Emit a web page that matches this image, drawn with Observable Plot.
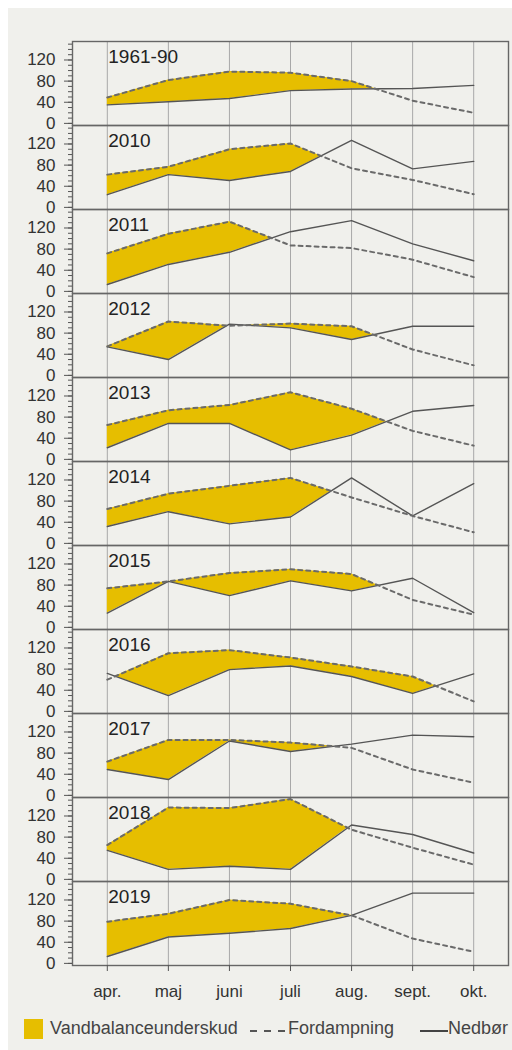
<!DOCTYPE html>
<html>
<head>
<meta charset="utf-8">
<script src="https://cdn.jsdelivr.net/npm/d3@7"></script>
<script src="https://cdn.jsdelivr.net/npm/@observablehq/plot@0.6"></script>
<style>
  html, body { margin: 0; padding: 0; background: #ffffff; }
  #wrap { position: absolute; left: 8px; top: 8px; width: 504px; height: 1042px; background: #f0f0ec; font-family: "Liberation Sans", Arial, sans-serif; color: #333; }
  #chart { position: absolute; left: 0; top: 0; }
  .leg { position: absolute; font-size: 18px; color: #444; white-space: nowrap; }
</style>
</head>
<body>
<div id="wrap">
  <div id="chart"></div>
  <div class="leg" style="left:16px;top:1011px;width:19px;height:20px;background:#e6be00;"></div>
  <div class="leg" style="left:42px;top:1010px;">Vandbalanceunderskud</div>
  <svg class="leg" style="left:242px;top:1021px;" width="36" height="4"><line x1="0" y1="2" x2="36" y2="2" stroke="#555" stroke-width="2" stroke-dasharray="7,7"/></svg>
  <div class="leg" style="left:280px;top:1010px;">Fordampning</div>
  <svg class="leg" style="left:412px;top:1021px;" width="28" height="4"><line x1="0" y1="2" x2="28" y2="2" stroke="#444" stroke-width="2"/></svg>
  <div class="leg" style="left:440px;top:1010px;">Nedbør</div>
</div>
<script>
const years = ["1961-90","2010","2011","2012","2013","2014","2015","2016","2017","2018","2019"];
const months = ["apr.","maj","juni","juli","aug.","sept.","okt."];
// Fordampning (evaporation), mm, apr..okt
const fordampning = [
  [49, 82, 98, 96, 80, 43, 20],
  [62, 77, 110, 121, 74, 52, 25],
  [72, 109, 132, 87, 82, 60, 27],
  [55, 102, 94, 98, 93, 49, 19],
  [65, 93, 103, 127, 96, 54, 26],
  [65, 94, 109, 124, 87, 52, 21],
  [74, 87, 103, 110, 101, 52, 24],
  [60, 110, 116, 102, 85, 66, 19],
  [64, 105, 105, 100, 90, 49, 24],
  [65, 136, 135, 152, 94, 60, 28],
  [79, 94, 120, 113, 91, 47, 22]
];
// Nedbør (precipitation), mm, apr..okt
const nedbor = [
  [35, 41, 47, 62, 65, 66, 72],
  [24, 62, 51, 68, 127, 73, 87],
  [13, 51, 74, 113, 134, 90, 58],
  [54, 30, 97, 90, 68, 93, 93],
  [22, 68, 68, 18, 46, 91, 102],
  [32, 60, 37, 50, 124, 52, 113],
  [27, 87, 60, 88, 69, 93, 28],
  [72, 30, 79, 86, 66, 34, 71],
  [49, 30, 103, 83, 97, 114, 111],
  [55, 19, 25, 19, 103, 85, 50],
  [13, 50, 57, 66, 91, 133, 133]
];

const rows = [];
years.forEach((yr, i) => months.forEach((m, j) => rows.push({year: yr, x: j, evap: fordampning[i][j], prec: nedbor[i][j]})));

// deficit band: between the two lines where evaporation exceeds precipitation
const band = [];
years.forEach((yr, i) => {
  const ev = fordampning[i], pr = nedbor[i];
  for (let j = 0; j < months.length; j++) {
    band.push({year: yr, x: j, lo: pr[j], hi: Math.max(ev[j], pr[j])});
    if (j < months.length - 1) {
      const d0 = ev[j] - pr[j], d1 = ev[j + 1] - pr[j + 1];
      if (d0 * d1 < 0) {
        const t = d0 / (d0 - d1);
        const y = pr[j] + t * (pr[j + 1] - pr[j]);
        band.push({year: yr, x: j + t, lo: y, hi: y});
      }
    }
  }
});

const chart = Plot.plot({
  width: 504,
  height: 998,
  marginTop: 28,
  marginBottom: 37,
  marginLeft: 64,
  marginRight: 4,
  style: {background: "transparent", fontFamily: "'Liberation Sans', Arial, sans-serif", fontSize: "17px", color: "#333"},
  x: {domain: [-0.57, 6.57]},
  y: {domain: [-4, 155]},
  fy: {domain: years, padding: 0, axis: null},
  marks: [
    Plot.ruleX(d3.range(months.length), {stroke: "#a8a8a8", strokeWidth: 1}),
    Plot.areaY(band, {x: "x", y1: "lo", y2: "hi", fy: "year", fill: "#e6be00", curve: "linear"}),
    Plot.line(rows, {x: "x", y: "prec", fy: "year", stroke: "#555", strokeWidth: 1.4}),
    Plot.line(rows, {x: "x", y: "evap", fy: "year", stroke: "#6a6a6a", strokeWidth: 2, strokeDasharray: "4,4"}),
    Plot.frame({stroke: "#666", strokeWidth: 1.4}),
    Plot.axisY({ticks: d3.range(0, 151, 10), tickSize: 4, text: null, label: null, stroke: "#555"}),
    Plot.axisY({ticks: [0, 40, 80, 120], tickSize: 8, tickPadding: 9, label: null, stroke: "#555", fill: "#333"}),
    Plot.axisX({ticks: d3.range(months.length), tickFormat: i => months[i], tickSize: 6, tickPadding: 13, label: null, stroke: "#555", fill: "#333"}),
    Plot.text(years, {fy: d => d, x: () => 0, frameAnchor: "top", text: d => d, textAnchor: "start", lineAnchor: "top", dx: 1, dy: 8, fontSize: 19, fill: "#222"})
  ]
});
document.getElementById("chart").appendChild(chart);
</script>
</body>
</html>
